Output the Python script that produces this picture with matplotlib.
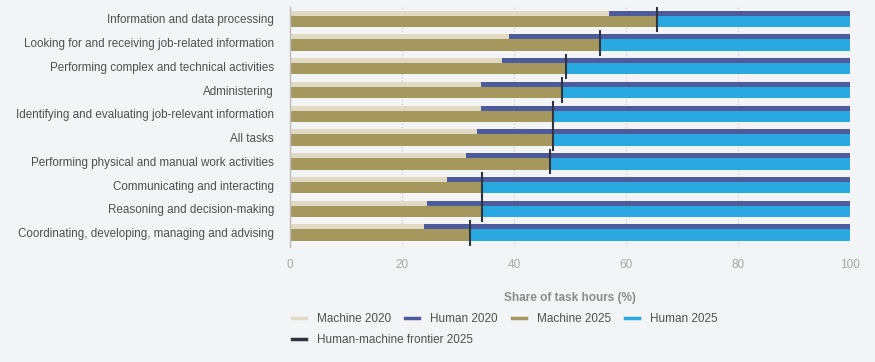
import matplotlib.pyplot as plt
from matplotlib.lines import Line2D

plt.rcParams['font.family'] = ['Liberation Sans', 'DejaVu Sans']

categories = [
    "Information and data processing",
    "Looking for and receiving job-related information",
    "Performing complex and technical activities",
    "Administering",
    "Identifying and evaluating job-relevant information",
    "All tasks",
    "Performing physical and manual work activities",
    "Communicating and interacting",
    "Reasoning and decision-making",
    "Coordinating, developing, managing and advising",
]
machine_2020 = [57.0, 39.1, 37.9, 34.1, 34.1, 33.4, 31.4, 28.1, 24.4, 23.9]
machine_2025 = [65.5, 55.3, 49.2, 48.6, 47.0, 47.0, 46.4, 34.3, 34.2, 32.2]
human_2020 = [100 - m for m in machine_2020]
human_2025 = [100 - m for m in machine_2025]

c_m20 = "#e0d9c3"
c_h20 = "#4d5a9c"
c_m25 = "#a5985e"
c_h25 = "#29a9e0"
c_front = "#2f3440"
bg = "#f3f4f6"

fig = plt.figure(figsize=(8.75, 3.62), dpi=100, facecolor=bg)
ax = fig.add_axes([290 / 875, 1 - 247 / 362, 560 / 875, 240 / 362], facecolor=bg)

y = list(range(len(categories)))
y20 = [v - 0.245 for v in y]
y25 = [v + 0.10 for v in y]

ax.barh(y20, machine_2020, height=0.21, color=c_m20, zorder=2)
ax.barh(y20, human_2020, left=machine_2020, height=0.21, color=c_h20, zorder=2)
ax.barh(y25, machine_2025, height=0.48, color=c_m25, zorder=2)
ax.barh(y25, human_2025, left=machine_2025, height=0.48, color=c_h25, zorder=2)
for i, m in enumerate(machine_2025):
    ax.plot([m, m], [i - 0.5, i + 0.5], color=c_front, lw=1.5, zorder=3)

ax.set_xlim(0, 100)
ax.set_ylim(9.6, -0.5)
ax.set_xticks([0, 20, 40, 60, 80, 100])
ax.set_yticks(y)
ax.set_yticklabels(categories)
ax.tick_params(axis='y', length=0, pad=11.5, labelsize=8.35, labelcolor="#505050")
ax.tick_params(axis='x', length=0, pad=9, labelsize=8.5, labelcolor="#a8a8a8")
ax.grid(axis='x', linestyle=':', color="#cccccc", lw=0.9, zorder=0)
for s in ['top', 'right', 'bottom']:
    ax.spines[s].set_visible(False)
ax.spines['left'].set_color("#bdbdbd")
ax.spines['left'].set_linewidth(1.0)
ax.set_xlabel("Share of task hours (%)", fontsize=8.5, color="#8c8c8c",
              fontweight='bold', labelpad=15)

row1 = [
    Line2D([], [], color=c_m20, lw=2.5, label="Machine 2020"),
    Line2D([], [], color=c_h20, lw=2.5, label="Human 2020"),
    Line2D([], [], color=c_m25, lw=2.5, label="Machine 2025"),
    Line2D([], [], color=c_h25, lw=2.5, label="Human 2025"),
]
row2 = [Line2D([], [], color=c_front, lw=2.5, label="Human-machine frontier 2025")]

leg_kw = dict(frameon=False, fontsize=8.5, borderpad=0, handlelength=1.2,
              handletextpad=0.95, columnspacing=1.15, labelcolor="#505050",
              loc='center left')
fig.legend(handles=row1, ncol=4, bbox_to_anchor=(286 / 875, 1 - 319 / 362), **leg_kw)
fig.legend(handles=row2, ncol=1, bbox_to_anchor=(286 / 875, 1 - 340 / 362), **leg_kw)

fig.savefig("out.png", dpi=100, facecolor=bg)
